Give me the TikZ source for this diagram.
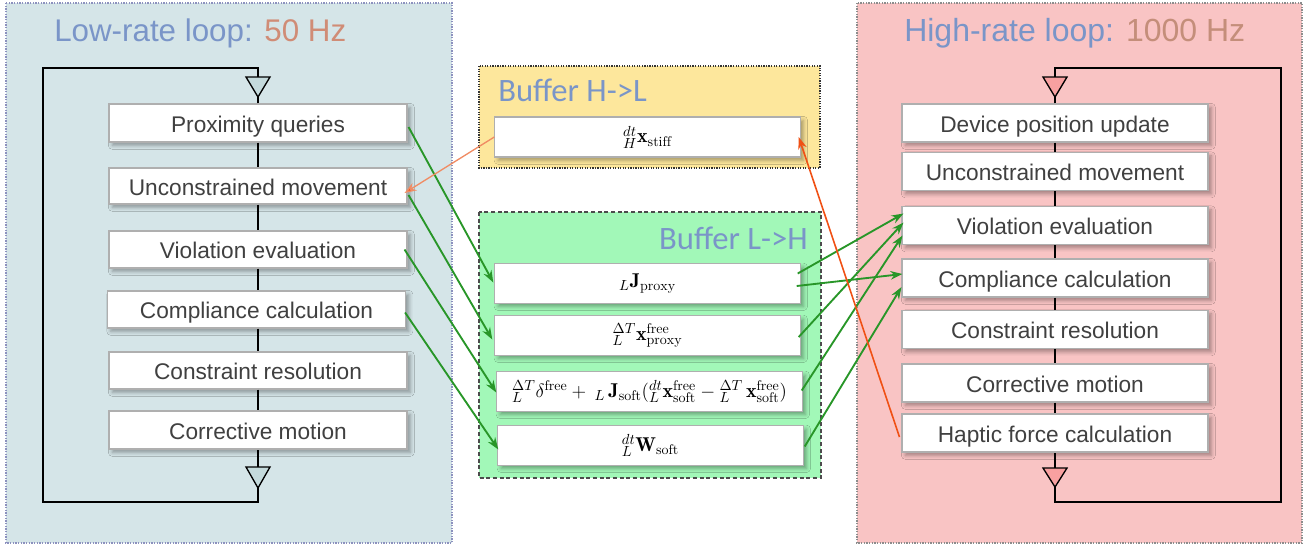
\documentclass[tikz,border=0pt]{standalone}
\usepackage{fontspec}
\newfontfamily\lsans{Liberation Sans}
\newfontfamily\calib{Carlito}
\usetikzlibrary{arrows.meta,calc,shadows.blur}
\definecolor{lowbg}{RGB}{213,229,232}
\definecolor{highbg}{RGB}{249,196,196}
\definecolor{yelbg}{RGB}{253,231,156}
\definecolor{grnbg}{RGB}{162,248,184}
\definecolor{titleblue}{RGB}{122,149,200}
\definecolor{titleorange}{RGB}{208,140,118}
\definecolor{titlebrown}{RGB}{196,142,122}
\definecolor{boxtext}{RGB}{64,64,64}
\definecolor{boxedge}{RGB}{175,175,175}
\definecolor{grn}{RGB}{40,150,40}
\definecolor{org}{RGB}{240,80,20}
\definecolor{orglight}{RGB}{240,140,100}
\definecolor{lowtri}{RGB}{196,218,220}
\definecolor{hightri}{RGB}{248,160,160}
\definecolor{lowedge}{RGB}{140,145,190}
\definecolor{highedge}{RGB}{140,140,140}
\begin{document}
\begin{tikzpicture}[x=0.75pt,y=-0.75pt,
  box/.style={draw=boxedge, line width=0.8pt, fill=white, inner sep=0pt,
    minimum width=229.5pt, minimum height=28.5pt, text height=14pt, text depth=0pt,
    blur shadow={shadow xshift=2.5pt, shadow yshift=-2.5pt, shadow blur radius=3pt, shadow opacity=35},
    font=\lsans\fontsize{17}{20}\selectfont, text=boxtext},
  lbox/.style={box, minimum width=223.5pt},
  mbox/.style={box, minimum width=229pt, minimum height=29.5pt, text height=, text depth=,
    font=\fontsize{15}{17}\selectfont, text=black},
  title/.style={font=\lsans\fontsize{23.5}{28}\selectfont, anchor=west, inner sep=0pt},
  btitle/.style={font=\calib\fontsize{24.5}{29}\selectfont, inner sep=0pt, text=titleblue},
  loopline/.style={line width=1.3pt, black},
  tri/.style={line width=1pt, black},
  garrow/.style={grn, line width=1.4pt, -{Stealth[length=9pt,width=6.5pt]}},
  oarrow/.style={org, line width=1.2pt, -{Stealth[length=9pt,width=6.5pt]}}
]
\useasboundingbox (0,0) rectangle (1308,551);
% panels
\fill[lowbg] (6,3) rectangle (452,543);
\draw[lowedge, densely dotted, line width=1pt] (6,3) rectangle (452,543);
\fill[highbg] (857,3) rectangle (1302,543);
\draw[highedge, densely dotted, line width=1pt] (857,3) rectangle (1302,543);
\fill[yelbg] (479,66) rectangle (820,168);
\draw[black!80, densely dotted, line width=0.9pt] (479,66) rectangle (820,168);
\fill[grnbg] (479,212) rectangle (821,478);
\draw[black!70, dashed, line width=0.8pt, dash pattern=on 3pt off 2pt] (479,212) rectangle (821,478);
% titles
\node[title] (tlow) at (54,33) {\color{titleblue}Low-rate loop: \color{titleorange}50 Hz};
\node[title, font=\lsans\fontsize{24}{28}\selectfont] (thigh) at (904,33) {\color{titleblue}High-rate loop: \color{titlebrown}1000 Hz};
\node[btitle, anchor=west] (tbhl) at (498,90) {Buffer H->L};
\node[btitle, anchor=east] (tblh) at (808,238) {Buffer L->H};
% left boxes
\node[lbox] (lpq) at (258,123) {Proximity queries};
\node[lbox, minimum height=27pt] (lum) at (258,186) {Unconstrained movement};
\node[lbox, minimum height=27.75pt] (lve) at (258,249.5) {Violation evaluation};
\node[lbox, minimum height=27.75pt] (lcc) at (256.5,309.5) {Compliance calculation};
\node[lbox, minimum height=27.75pt] (lcr) at (258,370.5) {Constraint resolution};
\node[lbox] (lcm) at (258,430) {Corrective motion};
% right boxes
\node[box] (rdp) at (1055,123) {Device position update};
\node[box] (rum) at (1055,171.5) {Unconstrained movement};
\node[box] (rve) at (1055,225.5) {Violation evaluation};
\node[box] (rcc) at (1055,278) {Compliance calculation};
\node[box] (rcr) at (1055,329.5) {Constraint resolution};
\node[box] (rcm) at (1055,383) {Corrective motion};
\node[box] (rhf) at (1055,433) {Haptic force calculation};
% buffer boxes
\node[mbox, minimum height=30pt] (bst) at (647.5,137) {${}^{dt}_{H}\mathbf{x}_{\mathrm{stiff}}$};
\node[mbox] (bj) at (647.5,283.5) {${}_{L}\mathbf{J}_{\mathrm{proxy}}$};
\node[mbox] (bx) at (647.5,335.5) {${}^{\Delta T}_{L}\mathbf{x}^{\mathrm{free}}_{\mathrm{proxy}}$};
\node[mbox] (bl) at (649.5,391.5) {${}^{\Delta T}_{L}\delta^{\mathrm{free}} + {}_{\;L}\,\mathbf{J}_{\mathrm{soft}}({}^{dt}_{L}\mathbf{x}^{\mathrm{free}}_{\mathrm{soft}} -{}^{\Delta T}_{L}\,\mathbf{x}^{\mathrm{free}}_{\mathrm{soft}})$};
\node[mbox] (bw) at (650.5,445.5) {${}^{dt}_{L}\mathbf{W}_{\mathrm{soft}}$};
% left loop
\coordinate (ltop) at (258,68);
\coordinate (lbot) at (258,502);
\coordinate (lleft) at (43,68);
\draw[loopline] (lpq.north) -- (ltop) -- (lleft) |- (lbot) -- (lcm.south);
\draw[loopline] (lpq.south) -- (lum.north);
\draw[loopline] (lum.south) -- (lum.south |- lve.north);
\draw[loopline] (lve.south) -- (lve.south |- lcc.north);
\draw[loopline] (lve.south |- lcc.south) -- (lve.south |- lcr.north);
\draw[loopline] (lcr.south) -- (lcm.north);
\draw[tri, fill=lowtri] (246,77) -- (270,77) -- (258,97) -- cycle;
\draw[tri, fill=lowtri] (246,467) -- (270,467) -- (258,488) -- cycle;
% right loop
\coordinate (rtop) at (1055,68);
\coordinate (rbot) at (1055,502);
\coordinate (rright) at (1281,68);
\draw[loopline] (rdp.north) -- (rtop) -- (rright) |- (rbot) -- (rhf.south);
\draw[loopline] (rdp.south) -- (rum.north);
\draw[loopline] (rum.south) -- (rve.north);
\draw[loopline] (rve.south) -- (rcc.north);
\draw[loopline] (rcc.south) -- (rcr.north);
\draw[loopline] (rcr.south) -- (rcm.north);
\draw[loopline] (rcm.south) -- (rhf.north);
\draw[tri, fill=hightri] (1043,77) -- (1067,77) -- (1055,97) -- cycle;
\draw[tri, fill=hightri] (1043,468) -- (1067,468) -- (1055,487) -- cycle;
% green arrows left -> buffer
\draw[garrow] ($(lpq.east)+(1,4)$) -- ($(bj.west)+(-1,-1)$);
\draw[garrow] ($(lum.east)+(1,9)$) -- ($(bx.west)+(-2,4)$);
\draw[garrow] ($(lve.east)+(-3,0)$) -- ($(bl.west)+(0,1)$);
\draw[garrow] ($(lcc.east)+(-1,3)$) -- ($(bw.west)+(1,4)$);
% green arrows buffer -> right
\draw[garrow] ($(bj.east)+(-3,-10)$) -- ($(rve.west)+(2,-12)$);
\draw[garrow] ($(bj.east)+(-4,2.5)$) -- ($(rcc.west)+(1,-4)$);
\draw[garrow] ($(bx.east)+(-2,1.5)$) -- ($(rve.west)+(2,-3)$);
\draw[garrow] ($(bl.east)+(-1,-1)$) -- ($(rve.west)+(1,10)$);
\draw[garrow] ($(bw.east)+(1,1)$) -- ($(rcc.west)+(0,9)$);
% orange arrows
\draw[oarrow, orglight, line width=1pt, -{Stealth[length=9pt,width=6.5pt,fill=org]}] (bst.west) -- ($(lum.east)+(-3,7)$);
\draw[oarrow] ($(rhf.west)+(-2,4)$) -- ($(bst.east)+(-2,0)$);
\end{tikzpicture}
\end{document}
